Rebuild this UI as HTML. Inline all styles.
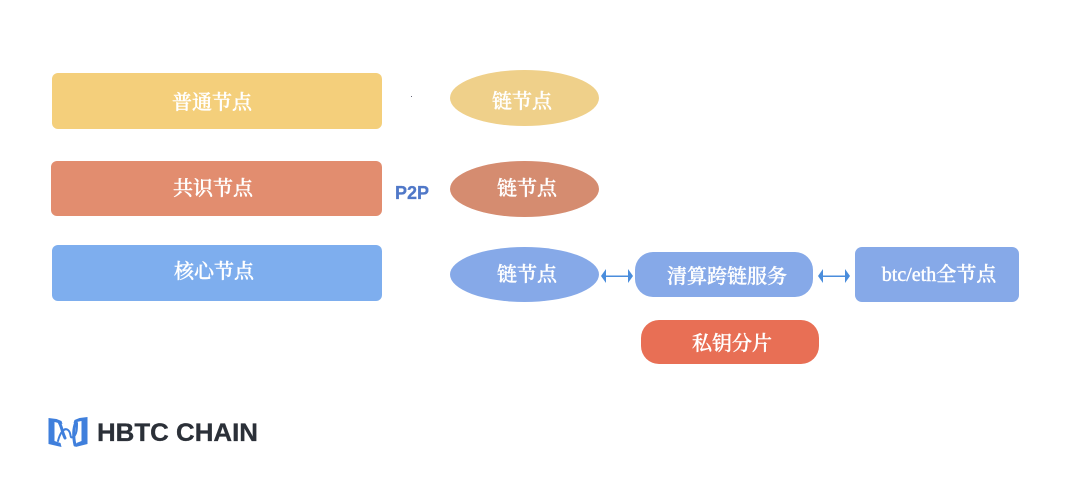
<!DOCTYPE html>
<html><head><meta charset="utf-8">
<style>
html,body{margin:0;padding:0;background:#fff;width:1076px;height:478px;overflow:hidden}
svg{display:block}
.z{font-family:"Liberation Serif","Noto Serif CJK SC",serif;font-size:20px;fill:#fff;stroke:#fff;stroke-width:.4px;text-anchor:middle;font-weight:500}
</style></head><body>
<svg width="1076" height="478" viewBox="0 0 1076 478" xmlns="http://www.w3.org/2000/svg">
<rect x="52" y="73" width="330" height="56" rx="6" fill="#f4cf7b"/>
<rect x="51" y="161" width="331" height="55" rx="6" fill="#e28d6f"/>
<rect x="52" y="245" width="330" height="56" rx="6" fill="#7eaeee"/>
<text class="z" x="212" y="109">普通节点</text>
<text class="z" x="213" y="195">共识节点</text>
<text class="z" x="214" y="278">核心节点</text>
<rect x="411" y="96" width="1" height="1" fill="#667"/>
<text x="412" y="199" font-family="Liberation Sans,sans-serif" font-size="18" font-weight="700" fill="#5078c8" stroke="#5078c8" stroke-width=".3" text-anchor="middle">P2P</text>
<ellipse cx="524.500" cy="98" rx="74.500" ry="28" fill="#efd08a"/>
<ellipse cx="524.500" cy="189" rx="74.500" ry="28" fill="#d58c70"/>
<ellipse cx="524.500" cy="274.500" rx="74.500" ry="27.500" fill="#86a9e8"/>
<text class="z" x="522" y="108">链节点</text>
<text class="z" x="527" y="195">链节点</text>
<text class="z" x="527" y="281">链节点</text>
<rect x="635" y="252" width="178" height="45" rx="18" fill="#86a9e8"/>
<text class="z" x="727" y="283">清算跨链服务</text>
<rect x="855" y="247" width="164" height="55" rx="7" fill="#86a9e8"/>
<text class="z" x="939" y="281">btc/eth全节点</text>
<rect x="641" y="320" width="178" height="44" rx="18" fill="#e86f55"/>
<text class="z" x="732" y="350">私钥分片</text>
<g fill="#4a8ddc" stroke="none">
<rect x="604" y="275.500" width="26" height="1.500"/>
<path d="M601 276l5-7v14z"/><path d="M633 276l-5-7v14z"/>
<rect x="821" y="275.500" width="26" height="1.500"/>
<path d="M818 276l5-7v14z"/><path d="M850 276l-5-7v14z"/>
</g>
<g fill="#3f7fdc" stroke="none">
<path d="M48.500 418l8 1 5 2 1 3-4-1-4-1v19l6 2 1 4-13-3z"/>
<path d="M87.500 417l-8 1-5 2-1 3 3-1 5-1v20l-5 2-1 4 12-3z"/>
</g>
<g fill="none" stroke="#3f7fdc" stroke-linecap="round">
<path d="M59 422c3 5 3 10 6 16" stroke-width="3"/>
<path d="M76 422c-3 7-3 14-1 23" stroke-width="3"/>
<path d="M58 441c2-8 6-14 10-11s1 9 5 7s4-9 4-14" stroke-width="2"/>
</g>
<text x="97" y="441" font-family="Liberation Sans,sans-serif" font-size="25" font-weight="700" fill="#2b3038" stroke="#2b3038" stroke-width=".3" textLength="161" lengthAdjust="spacingAndGlyphs">HBTC CHAIN</text>
</svg>
</body></html>
